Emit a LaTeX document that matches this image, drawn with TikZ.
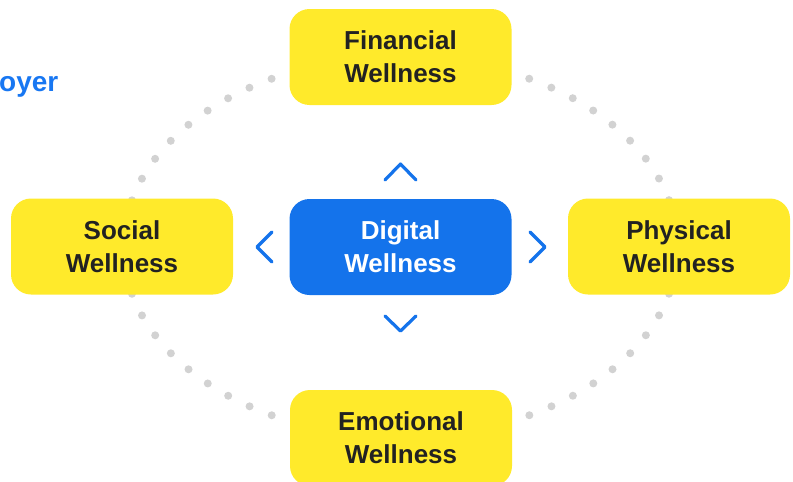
\documentclass[tikz,border=0pt]{standalone}
\usepackage{fontspec}
\setmainfont{Liberation Sans}
\definecolor{wyellow}{HTML}{FFEA2B}
\definecolor{wblue}{HTML}{1473EB}
\definecolor{tblue}{HTML}{1877F2}
\definecolor{dotgray}{HTML}{D2D2D2}
\definecolor{ink}{HTML}{222222}
\tikzset{
  wbox/.style={rounded corners=20pt, minimum width=222pt, minimum height=96pt, inner sep=0pt,
    align=center, font=\bfseries\fontsize{26}{33}\selectfont},
  ybox/.style={wbox, fill=wyellow, text=ink},
  bbox/.style={wbox, fill=wblue, text=white},
  dotring/.style={dotgray, line width=8pt, line cap=round, dash pattern=on 0pt off 23.87pt},
  chev/.style={wblue, line width=3.2pt, line cap=round, line join=round},
}
\begin{document}
\begin{tikzpicture}[x=1pt,y=-1pt]
\useasboundingbox (0,0) rectangle (793,482);
\draw[dotring] (400.5,247) ellipse [x radius=277, y radius=190];
\node[anchor=base west, text=tblue, font=\bfseries\fontsize{28}{32}\selectfont, inner sep=0pt] (hdr) at (-1,91) {oyer};
\node[ybox] (fin) at (400.5,57) {Financial\\Wellness};
\node[bbox] (dig) at (400.5,247) {Digital\\Wellness};
\node[ybox] (soc) at (122,246.5) {Social\\Wellness};
\node[ybox] (phy) at (679,246.5) {Physical\\Wellness};
\node[ybox] (emo) at (401,438) {Emotional\\Wellness};
\draw[chev] (385,180) -- (400.5,164) -- (416,180);
\draw[chev] (385,316) -- (400.5,331) -- (416,316);
\draw[chev] (272,232) -- (257,247) -- (272,262);
\draw[chev] (530,232) -- (545,247) -- (530,262);
\end{tikzpicture}
\end{document}
